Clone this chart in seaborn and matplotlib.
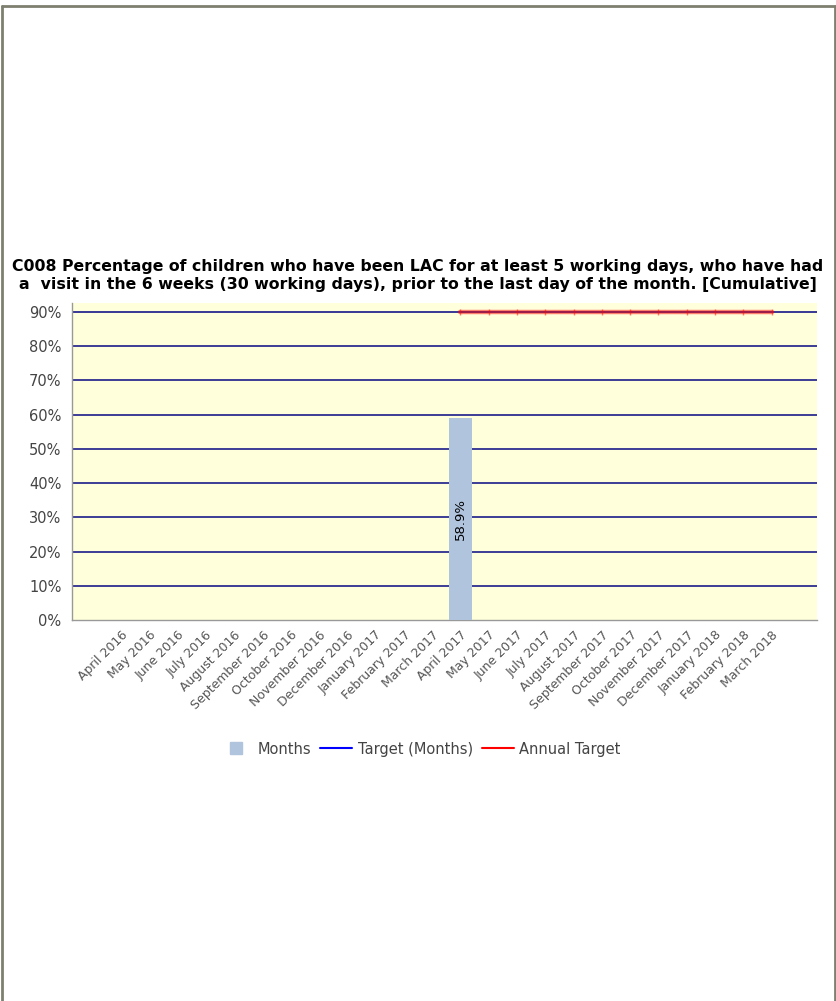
import numpy as np
import pandas as pd
import matplotlib
matplotlib.use("Agg")
import matplotlib.pyplot as plt
from matplotlib.lines import Line2D
import seaborn as sns

months = [
    "April 2016", "May 2016", "June 2016", "July 2016", "August 2016",
    "September 2016", "October 2016", "November 2016", "December 2016",
    "January 2017", "February 2017", "March 2017", "April 2017", "May 2017",
    "June 2017", "July 2017", "August 2017", "September 2017", "October 2017",
    "November 2017", "December 2017", "January 2018", "February 2018", "March 2018",
]
month_values = [np.nan] * 12 + [58.9] + [np.nan] * 11
target_months = [90] * 24
annual_target = [np.nan] * 12 + [90] * 12

TITLE = ("C008 Percentage of children who have been LAC for at least 5 working days, who have had\n"
         "a  visit in the 6 weeks (30 working days), prior to the last day of the month. [Cumulative]")


def main():
    sns.set_style("white")
    plt.rcParams["font.family"] = ["DejaVu Sans"]

    df = pd.DataFrame({"month": months, "value": month_values})

    fig = plt.figure(figsize=(8.37, 10.01), dpi=100)
    ax = fig.add_axes([0.086, 0.3806, 0.890, 0.3167])
    ax.set_facecolor("#FFFFDC")

    sns.barplot(data=df, x="month", y="value", color="#B0C4DE", saturation=1,
                width=0.81, ax=ax, zorder=3, linewidth=0, edgecolor="none")

    # gridlines
    for v in range(10, 100, 10):
        ax.axhline(v, color="#3C3C96", lw=1.4, zorder=1)

    ax.axhline(target_months[0], color="#3C3C96", lw=1.4, zorder=2)
    x = np.arange(len(months))
    ax.plot(x, annual_target, color="red", alpha=0.5, lw=3.2, marker="|",
            markersize=5, markeredgewidth=1, zorder=4)

    for xi, v in zip(x, month_values):
        if not np.isnan(v):
            ax.text(xi, v / 2, f"{v}%", rotation=90, ha="center", va="center",
                    fontsize=9.5, color="black", zorder=5)

    ax.set_xlim(-1.73, 24.6)
    ax.set_ylim(0, 92.6)
    ax.set_yticks(range(0, 100, 10))
    ax.set_yticklabels([f"{v}%" for v in range(0, 100, 10)], fontsize=10.5, color="#444444")
    ax.set_xticks(x)
    ax.set_xticklabels(months, rotation=45, ha="right", rotation_mode="anchor",
                       fontsize=9, color="#555555")
    ax.set_xlabel("")
    ax.set_ylabel("")
    ax.tick_params(axis="both", direction="out", length=4, color="#999999", width=1)
    ax.tick_params(axis="x", pad=2)
    for side in ["top", "right"]:
        ax.spines[side].set_visible(False)
    for side in ["left", "bottom"]:
        ax.spines[side].set_color("#999999")
        ax.spines[side].set_linewidth(1)

    fig.text(0.499, 0.725, TITLE, ha="center", va="center", fontsize=11.3,
             fontweight="bold", linespacing=1.25, color="black")

    handles = [
        Line2D([], [], marker="s", linestyle="none", markersize=9,
               markerfacecolor="#B0C4DE", markeredgecolor="#B0C4DE"),
        Line2D([], [], color="blue", lw=1.5),
        Line2D([], [], color="red", lw=1.5),
    ]
    fig.legend(handles, ["Months", "Target (Months)", "Annual Target"],
               loc="center", bbox_to_anchor=(0.502, 0.2517), ncol=3, frameon=False,
               fontsize=10.5, handlelength=2.2, columnspacing=0.6,
               handletextpad=0.4, labelcolor="#444444")

    # outer frame
    c = "#7F7F70"
    fig.add_artist(Line2D([0.0025, 0.9975], [0.9945, 0.9945], color=c, lw=2))
    fig.add_artist(Line2D([0.0025, 0.0025], [0.0, 0.9945], color=c, lw=2))
    fig.add_artist(Line2D([0.9975, 0.9975], [0.0, 0.9945], color=c, lw=2))

    fig.savefig("out.png", dpi=100)
    plt.close(fig)


if __name__ == "__main__":
    main()
